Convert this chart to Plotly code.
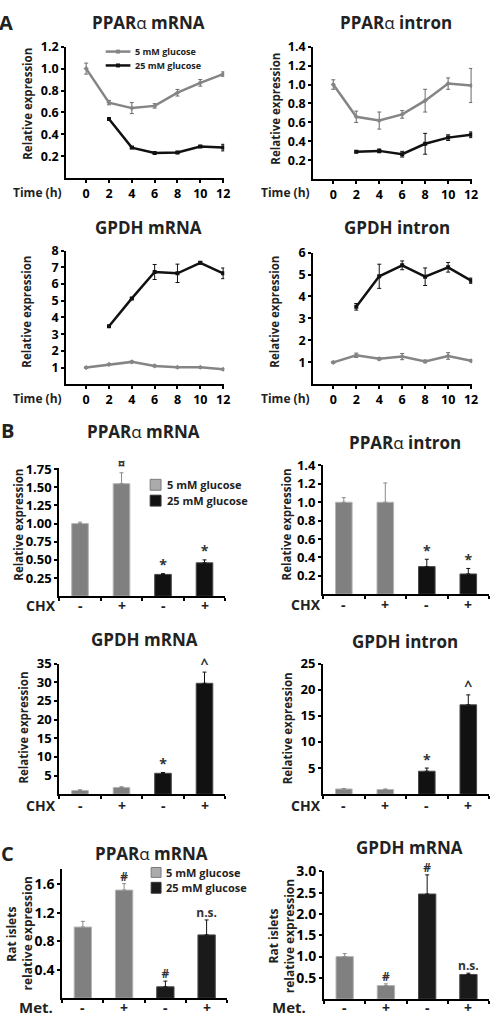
import plotly.graph_objects as go

W, H = 498, 1016
FONT = "Open Sans"
GRAY = "#858585"
BLACK = "#111111"

# ---------------- Panel A data (time course) ----------------
time_all = [0, 2, 4, 6, 8, 10, 12]
time_25 = [2, 4, 6, 8, 10, 12]
time_ticks = [0, 2, 4, 6, 8, 10, 12]

a1_5 = [1.00, 0.69, 0.64, 0.66, 0.78, 0.87, 0.95]
a1_5_err = [0.05, 0.02, 0.05, 0.02, 0.03, 0.03, 0.02]
a1_25 = [0.54, 0.28, 0.23, 0.235, 0.29, 0.28]
a1_25_err = [0.01, 0.01, 0.005, 0.01, 0.01, 0.03]

a2_5 = [1.00, 0.66, 0.62, 0.685, 0.83, 1.01, 0.99]
a2_5_err = [0.05, 0.06, 0.09, 0.04, 0.12, 0.06, 0.18]
a2_25 = [0.29, 0.30, 0.265, 0.375, 0.44, 0.47]
a2_25_err = [0.01, 0.02, 0.03, 0.11, 0.03, 0.03]

a3_5 = [1.00, 1.19, 1.34, 1.10, 1.02, 1.02, 0.90]
a3_5_err = [0.04, 0.04, 0.05, 0.05, 0.04, 0.04, 0.04]
a3_25 = [3.47, 5.14, 6.72, 6.64, 7.27, 6.64]
a3_25_err = [0.05, 0.05, 0.45, 0.55, 0.08, 0.32]

a4_5 = [1.00, 1.32, 1.16, 1.26, 1.04, 1.29, 1.07]
a4_5_err = [0.04, 0.10, 0.06, 0.14, 0.06, 0.15, 0.04]
a4_25 = [3.53, 4.92, 5.42, 4.90, 5.33, 4.72]
a4_25_err = [0.15, 0.55, 0.20, 0.40, 0.22, 0.12]

# ---------------- Panel B data (CHX bars) ----------------
b_groups = [0, 1, 2, 3]
chx_labels = ["-", "+", "-", "+"]

b1_vals = [1.00, 1.55, 0.30, 0.46]
b1_err = [0.02, 0.15, 0.01, 0.04]
b1_marks = ["", "¤", "*", "*"]

b2_vals = [1.00, 1.00, 0.30, 0.22]
b2_err = [0.05, 0.21, 0.08, 0.06]
b2_marks = ["", "", "*", "*"]

b3_vals = [1.0, 1.8, 5.6, 29.7]
b3_err = [0.2, 0.2, 0.2, 3.0]
b3_marks = ["", "", "*", "^"]

b4_vals = [1.0, 0.9, 4.4, 17.1]
b4_err = [0.1, 0.1, 0.6, 1.9]
b4_marks = ["", "", "*", "^"]

# ---------------- Panel C data (metformin bars) ----------------
met_labels = ["-", "+", "-", "+"]
c1_vals = [1.00, 1.52, 0.16, 0.89]
c1_err = [0.08, 0.09, 0.08, 0.21]
c1_marks = ["", "#", "#", "n.s."]

c2_vals = [1.00, 0.32, 2.47, 0.58]
c2_err = [0.07, 0.04, 0.45, 0.03]
c2_marks = ["", "#", "#", "n.s."]

legend_labels = ["5 mM glucose", "25 mM glucose"]

fig = go.Figure()


def xd(a, b):
    return [a / W, b / W]


def yd(top, bottom):
    return [1 - bottom / H, 1 - top / H]


def px(x):
    return x / W


def py(y):
    return 1 - y / H


# subplot geometry: (x0, x1, ytop, ybottom, yrange, dtick)
panels = {
    1: (67, 227, 37, 170, [0, 1.2], 0.2),
    2: (317, 478, 37, 171, [0, 1.4], 0.2),
    3: (67, 227, 243, 378, [0, 8], 1),
    4: (317, 478, 245, 378, [0, 6], 1),
    5: (60, 228, 463, 592, [0, 1.76], 0.25),
    6: (327, 495, 460, 590, [0, 1.4], 0.2),
    7: (60, 228, 660, 792, [0, 35], 5),
    8: (327, 495, 660, 792, [0, 25], 5),
    9: (63, 230, 868, 998, [0, 1.81], 0.4),
    10: (328, 495, 870, 999, [0, 3.0], 0.5),
}

layout = {}
for i, (x0, x1, yt, yb, yr, dt) in panels.items():
    xa = "xaxis" if i == 1 else f"xaxis{i}"
    ya = "yaxis" if i == 1 else f"yaxis{i}"
    ysuffix = "" if i == 1 else str(i)
    tick_size = 12.5 if i <= 4 else (13 if i <= 8 else 14)
    if i <= 4:
        xaxis = dict(
            domain=xd(x0, x1), anchor="y" + ysuffix, range=[-1.75, 12.1],
            tickmode="array", tickvals=time_ticks, ticktext=[str(t) for t in time_ticks],
            ticks="outside", ticklen=3, tickwidth=1.5, tickcolor="black",
            showline=True, linecolor="black", linewidth=2, showgrid=False, zeroline=False,
            tickfont=dict(family=FONT, size=12.5, color="black", weight="bold"),
        )
    else:
        xaxis = dict(
            domain=xd(x0, x1), anchor="y" + ysuffix, range=[-0.5, 3.5],
            tickmode="array", tickvals=[-0.5, 0.5, 1.5, 2.5, 3.5], showticklabels=False,
            ticks="outside", ticklen=3, tickwidth=1.5, tickcolor="black",
            showline=True, linecolor="black", linewidth=2,
            showgrid=False, zeroline=False,
        )
    tv = []
    v = dt
    while v <= yr[1] + 1e-9:
        tv.append(round(v, 4))
        v += dt
    if i in (5,):
        tt = [f"{t:.2f}" for t in tv]
    elif i in (1, 2, 6, 9, 10):
        tt = [f"{t:.1f}" for t in tv]
    else:
        tt = [str(int(t)) for t in tv]
    yaxis = dict(
        domain=yd(yt, yb), anchor="x" + ysuffix, range=yr,
        tickmode="array", tickvals=tv, ticktext=tt,
        ticks="outside", ticklen=3, tickwidth=1.5, tickcolor="black",
        showline=True, linecolor="black", linewidth=2, showgrid=False, zeroline=False,
        tickfont=dict(family=FONT, size=tick_size, color="black", weight="bold"),
    )
    layout[xa] = xaxis
    layout[ya] = yaxis


def axref(i):
    return ("x", "y") if i == 1 else (f"x{i}", f"y{i}")


# ---- line panels ----
line_sets = [
    (1, a1_5, a1_5_err, a1_25, a1_25_err),
    (2, a2_5, a2_5_err, a2_25, a2_25_err),
    (3, a3_5, a3_5_err, a3_25, a3_25_err),
    (4, a4_5, a4_5_err, a4_25, a4_25_err),
]
for i, v5, e5, v25, e25 in line_sets:
    xr, yrf = axref(i)
    fig.add_trace(go.Scatter(
        x=time_all, y=v5, mode="lines+markers", name=legend_labels[0],
        line=dict(color=GRAY, width=2.5), marker=dict(size=4, color=GRAY, symbol="diamond"),
        error_y=dict(type="data", array=e5, color="#6a6a6a", thickness=1, width=2),
        xaxis=xr, yaxis=yrf, showlegend=False,
    ))
    fig.add_trace(go.Scatter(
        x=time_25, y=v25, mode="lines+markers", name=legend_labels[1],
        line=dict(color=BLACK, width=2.5), marker=dict(size=4, color=BLACK, symbol="square"),
        error_y=dict(type="data", array=e25, color=BLACK, thickness=1, width=2),
        xaxis=xr, yaxis=yrf, showlegend=False,
    ))

ann = []
shapes = []

# ---- bar panels ----
bar_sets = [
    (5, b1_vals, b1_err, b1_marks, 0.40, chx_labels, 601),
    (6, b2_vals, b2_err, b2_marks, 0.40, chx_labels, 600),
    (7, b3_vals, b3_err, b3_marks, 0.40, chx_labels, 803),
    (8, b4_vals, b4_err, b4_marks, 0.40, chx_labels, 803),
    (9, c1_vals, c1_err, c1_marks, 0.42, met_labels, 1007),
    (10, c2_vals, c2_err, c2_marks, 0.42, met_labels, 1007),
]
for i, vals, errs, marks, bw, cats, ylab in bar_sets:
    xr, yrf = axref(i)
    cblack = BLACK if i <= 8 else "#1a1a1a"
    for k, (name, fill, line, ecol) in enumerate([
        (legend_labels[0], "#808080", "#b5b5b5", "#8a8a8a"),
        (legend_labels[1], cblack, "#4a4a4a", BLACK),
    ]):
        idx = [0, 1] if k == 0 else [2, 3]
        fig.add_trace(go.Bar(
            x=[b_groups[j] for j in idx], y=[vals[j] for j in idx], width=bw, name=name,
            marker=dict(color=fill, line=dict(color=line, width=1)),
            error_y=dict(type="data", symmetric=False, array=[errs[j] for j in idx],
                         arrayminus=[0, 0], color=ecol, thickness=1, width=2),
            xaxis=xr, yaxis=yrf, showlegend=False,
        ))
    fig.add_trace(go.Scatter(
        x=b_groups, y=[v + e for v, e in zip(vals, errs)], mode="text", text=marks,
        textposition="top center", cliponaxis=False,
        textfont=dict(family=FONT, size=12 if i >= 9 else 14, color="#333333", weight="bold"),
        xaxis=xr, yaxis=yrf, showlegend=False, hoverinfo="skip",
    ))
    # category labels (-/+) under each bar
    for g, lab in zip(b_groups, cats):
        ann.append(dict(text=lab, x=g, xref=xr, y=py(ylab), yref="paper",
                        showarrow=False, xanchor="center", yanchor="middle",
                        font=dict(family=FONT, size=14, color="#222222", weight="bold")))


def title(text, x, y, size=17):
    ann.append(dict(text=text, x=px(x), y=py(y), xref="paper", yref="paper",
                    showarrow=False, xanchor="center", yanchor="middle",
                    font=dict(family=FONT, size=size, color="#222222")))


T_PM = "<b>PPAR</b>α<b> mRNA</b>"
T_PI = "<b>PPAR</b>α<b> intron</b>"
title(T_PM, 150, 13)
title(T_PI, 401, 13)
title("<b>GPDH mRNA</b>", 150, 220)
title("<b>GPDH intron</b>", 402, 220)
title(T_PM, 145, 426)
title(T_PI, 410, 437)
title("<b>GPDH mRNA</b>", 146, 636)
title("<b>GPDH intron</b>", 410, 638)
title(T_PM, 153, 852)
title("<b>GPDH mRNA</b>", 414, 846)

for letter, x, y in [("A", 6, 13), ("B", 8, 425), ("C", 8, 852)]:
    ann.append(dict(text=f"<b>{letter}</b>", x=px(x), y=py(y), xref="paper", yref="paper",
                    showarrow=False, xanchor="center", yanchor="middle",
                    font=dict(family=FONT, size=20, color="#222222")))


def ytitle(text, x, y, size=11.5):
    ann.append(dict(text=text, x=px(x), y=py(y), xref="paper", yref="paper",
                    showarrow=False, xanchor="center", yanchor="middle", textangle=-90,
                    font=dict(family=FONT, size=size, color="#222222", weight="bold")))


RE = "Relative expression"
ytitle(RE, 27, 95)
ytitle(RE, 278, 100)
ytitle(RE, 27, 305)
ytitle(RE, 278, 305)
ytitle(RE, 19, 520)
ytitle(RE, 290, 520)
ytitle(RE, 24, 725)
ytitle(RE, 291, 725)
ytitle("Rat islets", 12, 933, 12)
ytitle("relative expression", 28, 933, 12)
ytitle("Rat islets", 277, 935, 12)
ytitle("relative expression", 293, 935, 12)


def xlabel(text, x, y, size):
    ann.append(dict(text=text, x=px(x), y=py(y), xref="paper", yref="paper",
                    showarrow=False, xanchor="center", yanchor="middle",
                    font=dict(family=FONT, size=size, color="#222222", weight="bold")))


xlabel("Time (h)", 38, 184, 12)
xlabel("Time (h)", 289, 184, 12)
xlabel("Time (h)", 38, 392, 12)
xlabel("Time (h)", 289, 392, 12)
xlabel("CHX", 42, 601, 14)
xlabel("CHX", 310, 600, 14)
xlabel("CHX", 42, 803, 14)
xlabel("CHX", 310, 803, 14)
xlabel("Met.", 36, 1007, 15)
xlabel("Met.", 293, 1007, 15)


# ---- legend keys (drawn as decorations in page pixels) ----
def leg_text(text, x, y, size):
    ann.append(dict(text=text, x=px(x), y=py(y), xref="paper", yref="paper",
                    showarrow=False, xanchor="left", yanchor="middle",
                    font=dict(family=FONT, size=size, color="#222222", weight="bold")))


def leg_line(x0, x1, y, color):
    shapes.append(dict(type="line", xref="paper", yref="paper",
                       x0=px(x0), x1=px(x1), y0=py(y), y1=py(y),
                       line=dict(color=color, width=2.5)))
    xc = (x0 + x1) / 2
    shapes.append(dict(type="rect", xref="paper", yref="paper",
                       x0=px(xc - 2), x1=px(xc + 2), y0=py(y - 2), y1=py(y + 2),
                       fillcolor=color, line=dict(width=0)))


def leg_box(x0, x1, yt, yb, fill, line):
    shapes.append(dict(type="rect", xref="paper", yref="paper",
                       x0=px(x0), x1=px(x1), y0=py(yb), y1=py(yt),
                       fillcolor=fill, line=dict(color=line, width=1)))


leg_line(107, 132, 42, GRAY)
leg_line(107, 132, 56, BLACK)
leg_text(legend_labels[0], 135, 42, 9)
leg_text(legend_labels[1], 135, 56, 9)

leg_box(152, 163, 474, 485, "#ababab", "#7a7a7a")
leg_box(152, 163, 490, 501, BLACK, "#333333")
leg_text(legend_labels[0], 167, 479, 11)
leg_text(legend_labels[1], 167, 495, 11)

leg_box(153, 163, 866, 876, "#ababab", "#7a7a7a")
leg_box(153, 163, 881, 892, "#1a1a1a", "#333333")
leg_text(legend_labels[0], 166, 871, 11)
leg_text(legend_labels[1], 166, 886, 11)

layout.update(
    width=W, height=H, autosize=False,
    margin=dict(l=0, r=0, t=0, b=0),
    paper_bgcolor="white", plot_bgcolor="white",
    barmode="overlay", showlegend=False,
    annotations=ann, shapes=shapes,
    font=dict(family=FONT, color="#222222"),
)
fig.update_layout(**layout)
fig.write_html("out.html", config={"displayModeBar": False},
               post_script="document.body.style.margin='0px';document.body.style.overflow='hidden';")
